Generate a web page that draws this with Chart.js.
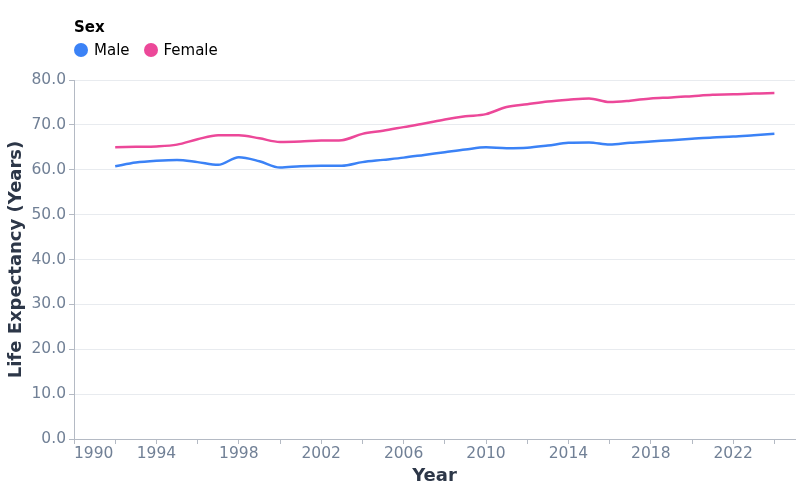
<!DOCTYPE html>
<html>
<head>
<meta charset="utf-8">
<title>Life Expectancy by Sex</title>
<script src="https://cdn.jsdelivr.net/npm/chart.js@4/dist/chart.umd.min.js"></script>
<style>
  body { margin: 0; background: #fff; font-family: "DejaVu Sans", sans-serif; }
  #wrap { position: relative; width: 800px; height: 500px; }
  #legend { position: absolute; left: 74px; top: 17px; font-size: 15px; color: #000; }
  #legend .title { font-weight: bold; height: 20px; line-height: 20px; }
  #legend .items { display: flex; margin-top: 3px; }
  #legend .item { display: flex; align-items: center; margin-right: 14px; height: 20px; }
  #legend .dot { width: 14px; height: 14px; border-radius: 50%; margin-right: 6px; }
</style>
</head>
<body>
<div id="wrap">
  <div id="legend"></div>
  <canvas id="lifeChart" width="800" height="500"></canvas>
</div>
<script>
const years = [1992, 1993, 1994, 1995, 1996, 1997, 1998, 1999, 2000, 2001, 2002,
  2003, 2004, 2005, 2006, 2007, 2008, 2009, 2010, 2011, 2012, 2013,
  2014, 2015, 2016, 2017, 2018, 2019, 2020, 2021, 2022, 2023, 2024];

const maleLife = [60.8, 61.6, 62.0, 62.2, 61.7, 61.1, 62.8, 61.9, 60.5, 60.8, 60.9,
  60.9, 61.7, 62.2, 62.7, 63.3, 63.9, 64.5, 65.0, 64.8, 64.9, 65.4,
  66.0, 66.1, 65.6, 66.0, 66.3, 66.6, 66.9, 67.2, 67.4, 67.7, 68.0];

const femaleLife = [65.0, 65.1, 65.2, 65.6, 66.8, 67.7, 67.7, 67.0, 66.2, 66.3, 66.5,
  66.6, 68.0, 68.7, 69.5, 70.3, 71.2, 71.9, 72.4, 74.0, 74.6, 75.2,
  75.6, 75.9, 75.1, 75.4, 75.9, 76.1, 76.4, 76.7, 76.8, 77.0, 77.1];

const seriesNames = ["Male", "Female"];
const seriesColors = ["#3b82f6", "#ec4899"];
const legendTitle = "Sex";

const xRange = [1990, 2025];
const yRange = [0, 80];

document.addEventListener("DOMContentLoaded", () => {
  const ctx = document.getElementById("lifeChart").getContext("2d");
  const tickGray = "#718096";
  const titleDark = "#2d3748";
  const axisGray = "#b4bac4";

  const toPoints = vals => vals.map((v, i) => ({ x: years[i], y: v }));
  const allSeries = [maleLife, femaleLife];

  // legend built from the same names/colours
  const legend = document.getElementById("legend");
  legend.innerHTML = `<div class="title">${legendTitle}</div><div class="items">` +
    seriesNames.map((n, i) =>
      `<div class="item"><span class="dot" style="background:${seriesColors[i]}"></span>${n}</div>`
    ).join("") + `</div>`;

  new Chart(ctx, {
    type: "line",
    data: {
      datasets: seriesNames.map((name, i) => ({
        label: name,
        data: toPoints(allSeries[i]),
        borderColor: seriesColors[i],
        backgroundColor: seriesColors[i],
        borderWidth: 2.5,
        pointRadius: 0,
        cubicInterpolationMode: "monotone",
        fill: false
      }))
    },
    options: {
      responsive: false,
      animation: false,
      layout: { padding: { top: 80, right: 5, bottom: 0, left: 0 } },
      plugins: {
        legend: { display: false },
        tooltip: { enabled: false }
      },
      font: { family: "'DejaVu Sans', sans-serif" },
      scales: {
        x: {
          type: "linear",
          min: xRange[0],
          max: xRange[1],
          afterFit: s => { s.height = 61; },
          border: { color: axisGray, width: 1 },
          grid: { drawOnChartArea: false, drawTicks: true, tickLength: 5, tickColor: axisGray },
          ticks: {
            stepSize: 2,
            includeBounds: false,
            autoSkip: false,
            maxRotation: 0,
            align: "inner",
            padding: 1,
            color: tickGray,
            font: { family: "'DejaVu Sans', sans-serif", size: 15.5 },
            callback: v => ((v - 1990) % 4 === 0 ? String(v) : "")
          },
          title: {
            display: true,
            text: "Year",
            color: titleDark,
            font: { family: "'DejaVu Sans', sans-serif", size: 18, weight: "bold" },
            padding: { top: 0, bottom: 13 }
          }
        },
        y: {
          min: yRange[0],
          max: yRange[1],
          afterFit: s => { s.width = 74; },
          border: { color: axisGray, width: 1 },
          grid: { color: "#e8ebef", drawTicks: true, tickLength: 5, tickColor: axisGray },
          ticks: {
            stepSize: 10,
            padding: 3,
            color: tickGray,
            font: { family: "'DejaVu Sans', sans-serif", size: 15.5 },
            callback: v => v.toFixed(1)
          },
          title: {
            display: true,
            text: "Life Expectancy (Years)",
            color: titleDark,
            font: { family: "'DejaVu Sans', sans-serif", size: 18, weight: "bold" },
            padding: { top: 6, bottom: 0 }
          }
        }
      }
    }
  });
});
</script>
</body>
</html>
